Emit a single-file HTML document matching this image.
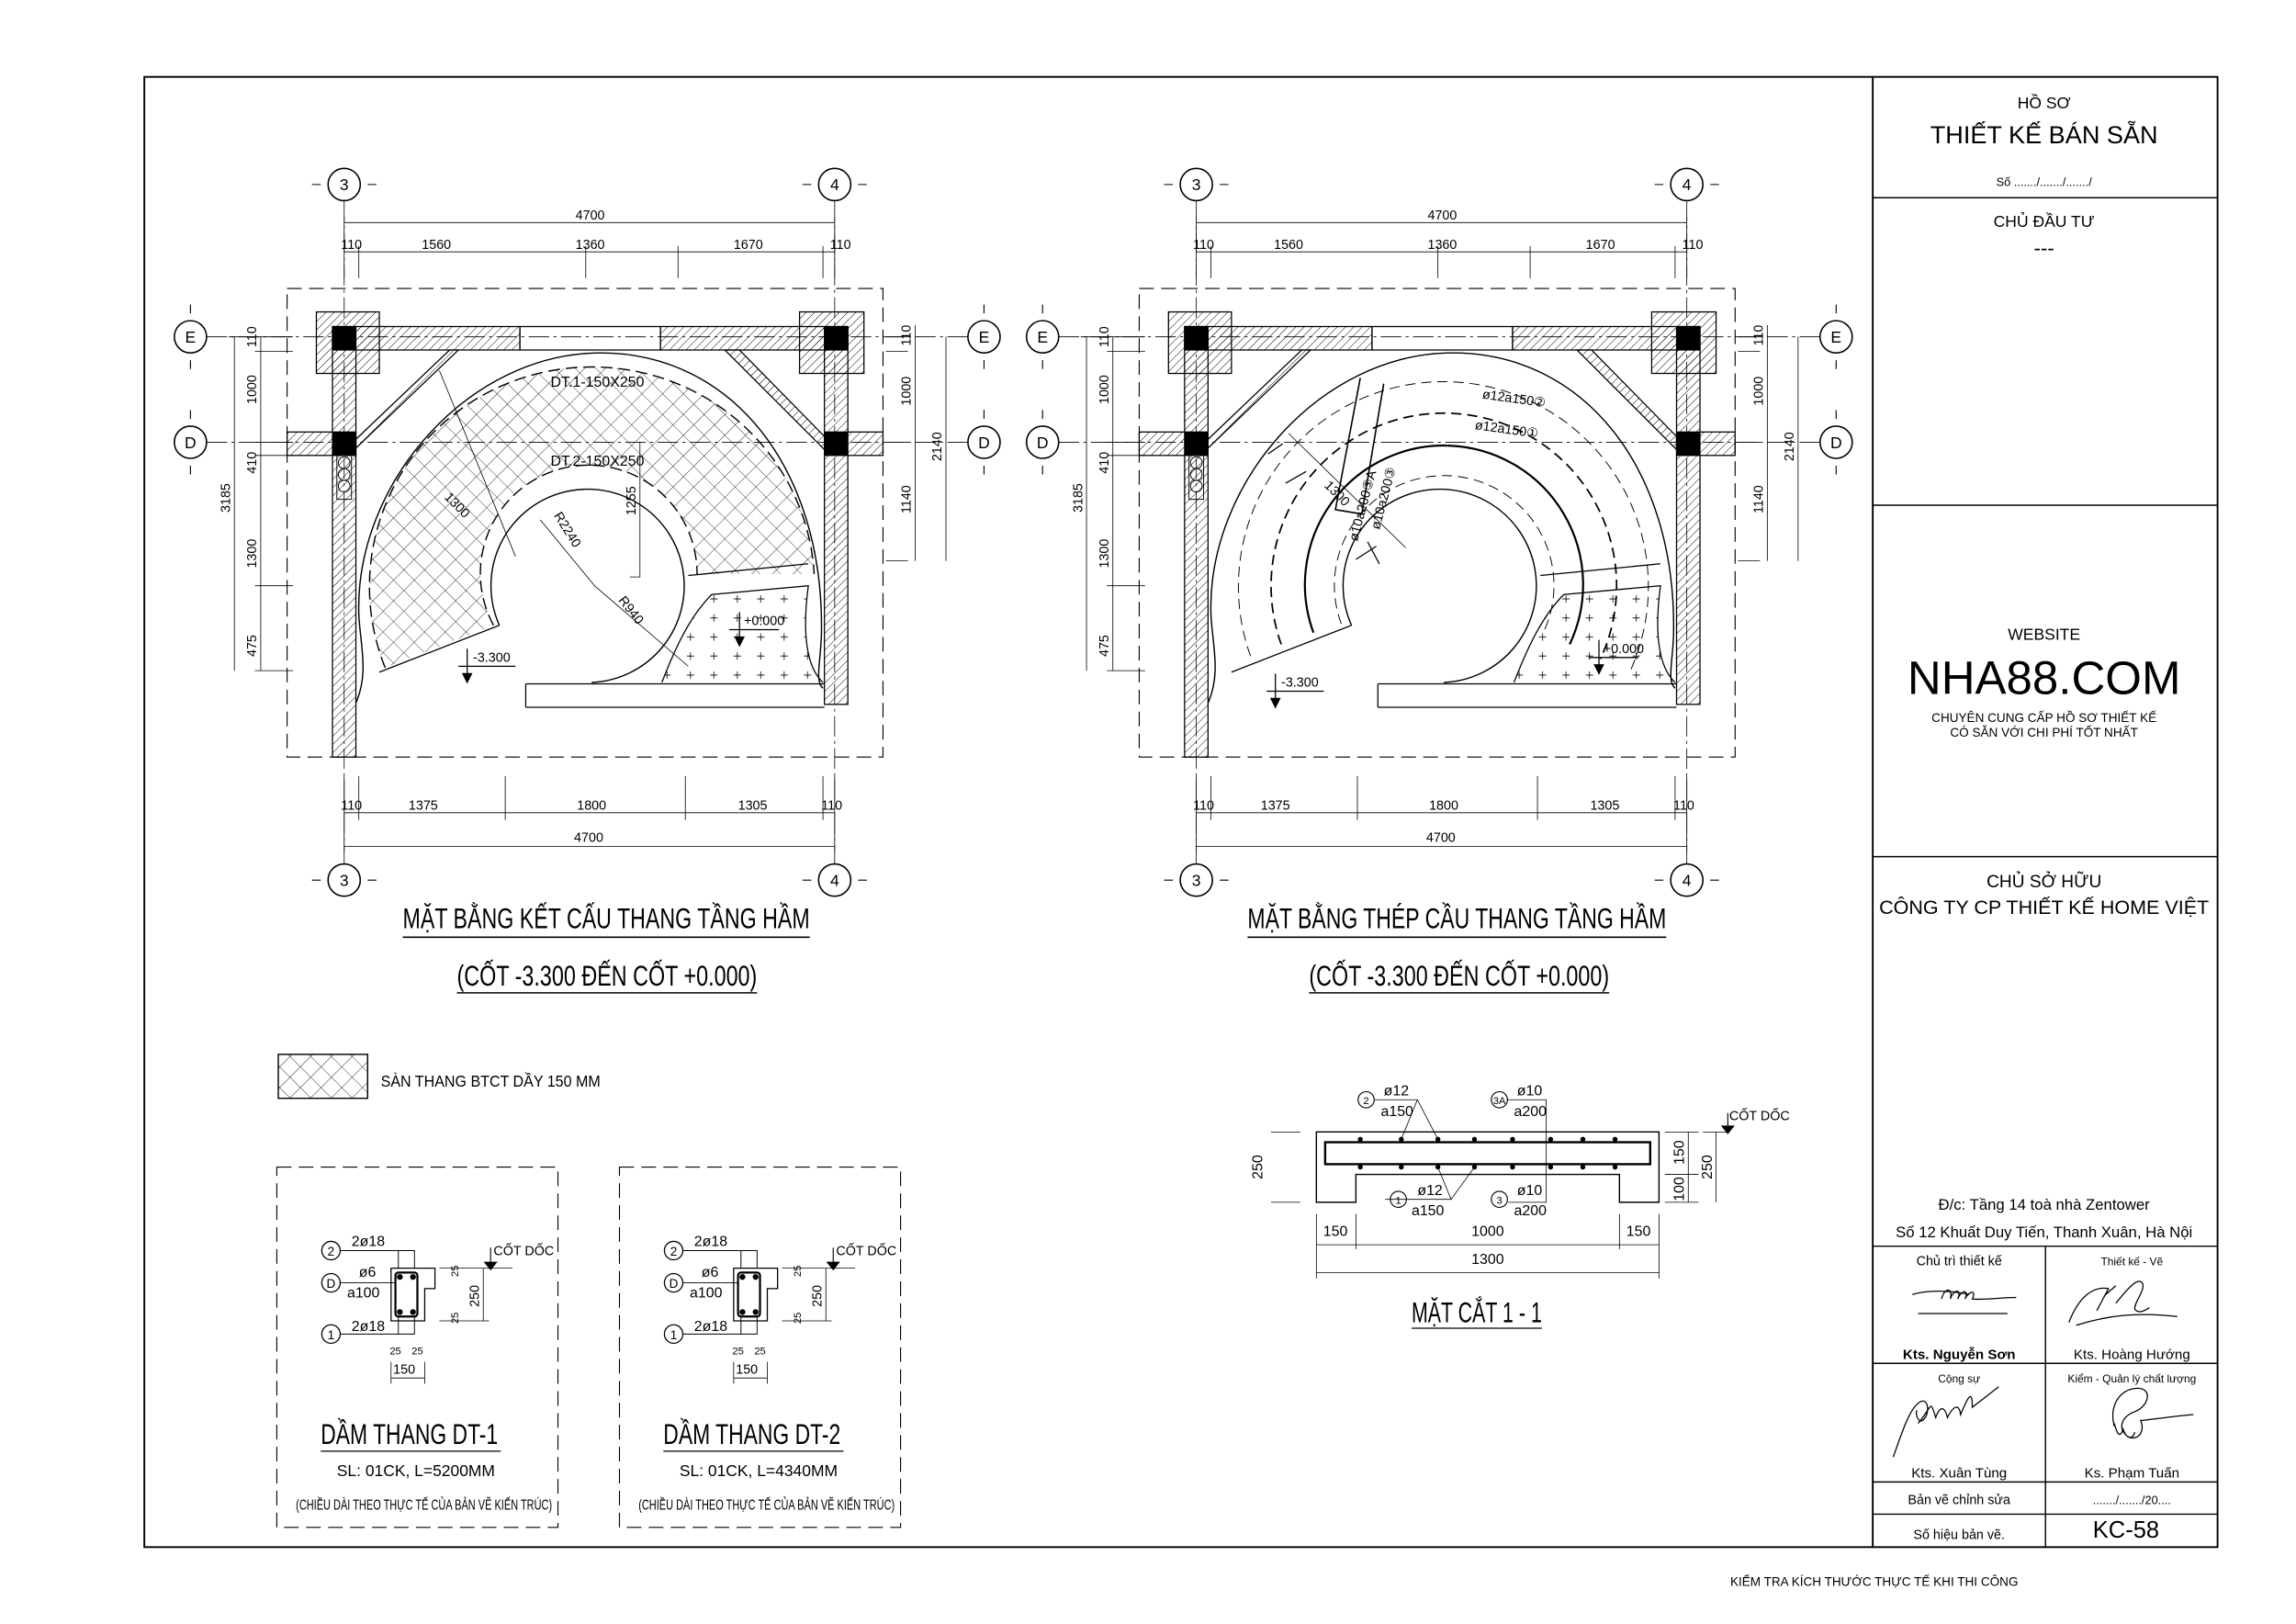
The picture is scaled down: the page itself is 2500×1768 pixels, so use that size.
<!DOCTYPE html>
<html><head><meta charset="utf-8"><style>
html,body{margin:0;padding:0;background:#fff}
svg{display:block}
text{font-family:"Liberation Sans",sans-serif;fill:#000}
.n{font-family:"Liberation Sans Narrow","Liberation Sans",sans-serif}
</style></head><body>
<svg width="2500" height="1768" viewBox="0 0 1568 1109" xmlns="http://www.w3.org/2000/svg">
<defs>
<pattern id="wh" width="4" height="4" patternUnits="userSpaceOnUse" patternTransform="rotate(45)"><line x1="0" y1="0" x2="0" y2="4" stroke="#000" stroke-width="0.6"/></pattern>
<pattern id="xh" width="10" height="10" patternUnits="userSpaceOnUse" patternTransform="rotate(45)"><path d="M0 0H10M0 0V10" stroke="#000" stroke-width="0.5" fill="none"/></pattern>
<pattern id="pl" width="16" height="13" patternUnits="userSpaceOnUse"><path d="M5 6h5M7.5 3.5v5" stroke="#000" stroke-width="0.5"/></pattern>
<g id="base" fill="none" stroke="#000" stroke-width="0.8">
  <!-- grid lines -->
  <g stroke-width="0.5" stroke-dasharray="14 3 2 3">
    <line x1="235" y1="137" x2="235" y2="590"/><line x1="570" y1="137" x2="570" y2="590"/>
    <line x1="141" y1="230" x2="661" y2="230"/><line x1="141" y1="302" x2="661" y2="302"/>
  </g>
  <g stroke-width="1">
    <circle cx="235" cy="126" r="11"/><circle cx="570" cy="126" r="11"/>
    <circle cx="235" cy="601" r="11"/><circle cx="570" cy="601" r="11"/>
    <circle cx="130" cy="230" r="11"/><circle cx="130" cy="302" r="11"/>
    <circle cx="672" cy="230" r="11"/><circle cx="672" cy="302" r="11"/>
  </g>
  <g stroke-width="0.7"><path d="M219 126h-6M251 126h6M554 126h-6M586 126h6M219 601h-6M251 601h6M554 601h-6M586 601h6M130 214v-6M130 246v6M130 286v-6M130 318v6M672 214v-6M672 246v6M672 286v-6M672 318v6"/></g>
  <!-- dashed rect -->
  <rect x="196" y="197" width="407" height="320" stroke-width="0.7" stroke-dasharray="10 5"/>
  <!-- dimensions -->
  <g stroke-width="0.5">
    <path d="M235 152H570M235 172H570M235 148V190M570 148V190M245 168V190M400 168V190M463 168V190M562 168V190"/>
    <path d="M235 555H570M235 578H570M235 530V582M570 530V582M245 530V560M345 530V560M468 530V560M562 530V560"/>
    <path d="M160 230V458M178 230V458M156 230H200M174 240H200M174 302H200M174 311H200M174 400H200M174 458H200"/>
    <path d="M625 222V383M646 230V383M620 230H605M620 240H605M620 302H605M620 383H605"/>
  </g>
  <!-- walls -->
  <g fill="url(#wh)" stroke-width="0.8">
    <rect x="216" y="213" width="43" height="42"/><rect x="546" y="213" width="44" height="42"/>
    <rect x="227" y="223" width="128" height="16"/><rect x="451" y="223" width="128" height="16"/>
    <rect x="227" y="223" width="16" height="294"/><rect x="563" y="223" width="16" height="258"/>
    <rect x="196" y="295" width="47" height="16"/><rect x="563" y="295" width="40" height="16"/>
    <path d="M243 300L307 239L313 239L243 306Z"/>
    <path d="M495 239L505 239L563 298L563 307Z"/>
  </g>
  <rect x="355" y="223" width="96" height="16" stroke-width="0.8"/>
  <g fill="#000" stroke="none"><rect x="227" y="223" width="16" height="16"/><rect x="227" y="295" width="16" height="16"/><rect x="563" y="223" width="16" height="16"/><rect x="563" y="295" width="16" height="16"/></g>
  <g stroke-width="0.6"><circle cx="235" cy="316" r="4"/><circle cx="235" cy="324" r="4"/><circle cx="235" cy="332" r="4"/><rect x="230" y="311" width="10" height="30"/></g>
  <!-- outer arch -->
  <path d="M243 480C252 460 246 440 245 420C242 330 320 241 410 241C500 241 562 320 561 430C561 450 556 465 562 470" stroke-width="0.9"/>
  <!-- inner circle + landing -->
  <path d="M341 427A66 66 0 1 1 404 466" stroke-width="0.9"/>
  <path d="M359 467H563M359 483H563M359 467V483" stroke-width="0.8"/>
  <path d="M452 466C462 440 472 420 486 406L552 400C548 430 550 455 562 466" stroke-width="0.8"/>
  <path d="M470 393L552 385" stroke-width="0.8"/>
  <path d="M259 459L341 427" stroke-width="0.8"/>
</g>
<g id="beam" fill="none" stroke="#000" stroke-width="0.8">
  <circle cx="226" cy="854" r="6.3"/><circle cx="226" cy="876" r="6.3"/><circle cx="226" cy="911" r="6.3"/>
  <path d="M232 854H283V866M232 876H270M232 911H283V899M272 854V866M272 911V899" stroke-width="0.6"/>
  <path d="M267 866H297V880H290V902H267Z"/>
  <rect x="270" y="869" width="15" height="30" stroke-width="1.4" rx="2"/>
  <g fill="#000" stroke="none"><circle cx="273" cy="872" r="2"/><circle cx="282" cy="872" r="2"/><circle cx="273" cy="896" r="2"/><circle cx="282" cy="896" r="2"/></g>
  <path d="M330 866V902M300 866H350M300 902H334M267 941H290M267 930V945M290 930V945" stroke-width="0.5"/>
  <path d="M335 852V866M331 862L335 867L339 862Z" fill="#000" stroke-width="0.7"/>
  <text x="226" y="857.5" font-size="8.5" text-anchor="middle" stroke="none">2</text>
  <text x="226" y="879.5" font-size="8.5" text-anchor="middle" stroke="none">D</text>
  <text x="226" y="914.5" font-size="8.5" text-anchor="middle" stroke="none">1</text>
  <text class="n" x="240" y="851" font-size="10" stroke="none">2ø18</text>
  <text class="n" x="245" y="872" font-size="10" stroke="none">ø6</text>
  <text class="n" x="237" y="886" font-size="10" stroke="none">a100</text>
  <text class="n" x="240" y="909" font-size="10" stroke="none">2ø18</text>
  <text class="n" x="337" y="857" font-size="9" stroke="none">CỐT DỐC</text>
  <text class="n" x="276" y="938" font-size="9" text-anchor="middle" stroke="none">150</text>
  <text class="n" x="270" y="925" font-size="7" text-anchor="middle" stroke="none">25</text>
  <text class="n" x="285" y="925" font-size="7" text-anchor="middle" stroke="none">25</text>
  <text class="n" transform="translate(327 885) rotate(-90)" font-size="9" text-anchor="middle" stroke="none">250</text>
  <text class="n" transform="translate(313 868) rotate(-90)" font-size="7" text-anchor="middle" stroke="none">25</text>
  <text class="n" transform="translate(313 900) rotate(-90)" font-size="7" text-anchor="middle" stroke="none">25</text>
</g>
</defs>

<!-- outer border -->
<rect x="98.5" y="52.5" width="1416" height="1004" fill="none" stroke="#000" stroke-width="1.2"/>

<!-- LEFT PLAN -->
<use href="#base"/>
<path d="M263 456A152 150 0 1 1 556 392L476 392A74 74 0 1 0 337 427Z" fill="url(#xh)" stroke="none"/>
<path d="M263 456A152 150 0 1 1 556 392" fill="none" stroke="#000" stroke-width="0.9" stroke-dasharray="8 4"/>
<path d="M337 427A74 74 0 1 1 476 392" fill="none" stroke="#000" stroke-width="0.9" stroke-dasharray="8 4"/>
<path d="M452 466C462 440 472 420 486 406L552 400C548 430 550 455 562 466Z" fill="url(#pl)" stroke="none"/>
<g stroke="#000" stroke-width="0.5" fill="none"><path d="M437 302V394H430M300 253L352 380M369 355L406 400L470 455"/></g>
<g font-size="10" class="n">
<text x="376" y="264">DT.1-150X250</text>
<text x="376" y="318">DT.2-150X250</text>
<text transform="translate(303 340) rotate(45)" font-size="9">1300</text>
<text transform="translate(378 352) rotate(58)" font-size="9">R2240</text>
<text transform="translate(422 410) rotate(52)" font-size="9">R940</text>
<text transform="translate(434 352) rotate(-90)" font-size="9">1255</text>
<text x="323" y="452" font-size="9">-3.300</text>
<text x="508" y="427" font-size="9">+0.000</text>
</g>
<g stroke="#000" stroke-width="0.8" fill="#000"><path d="M313 455H352M319 443V462M316 460L319 466L322 460Z"/><path d="M498 430H532M505 418V437M502 435L505 441L508 435Z"/></g>
<g class="n" font-size="9" text-anchor="middle">
<text x="403" y="150">4700</text>
<text x="240" y="170">110</text><text x="298" y="170">1560</text><text x="403" y="170">1360</text><text x="511" y="170">1670</text><text x="574" y="170">110</text>
<text x="240" y="553">110</text><text x="289" y="553">1375</text><text x="404" y="553">1800</text><text x="514" y="553">1305</text><text x="568" y="553">110</text>
<text x="402" y="575">4700</text>
<text transform="translate(157 340) rotate(-90)">3185</text>
<text transform="translate(175 230) rotate(-90)">110</text><text transform="translate(175 266) rotate(-90)">1000</text><text transform="translate(175 316) rotate(-90)">410</text><text transform="translate(175 378) rotate(-90)">1300</text><text transform="translate(175 441) rotate(-90)">475</text>
<text transform="translate(622 229) rotate(-90)">110</text><text transform="translate(622 267) rotate(-90)">1000</text><text transform="translate(622 341) rotate(-90)">1140</text>
<text transform="translate(643 305) rotate(-90)">2140</text>
</g>
<g font-size="11" text-anchor="middle">
<text x="235" y="130">3</text><text x="570" y="130">4</text><text x="235" y="605">3</text><text x="570" y="605">4</text>
<text x="130" y="234">E</text><text x="130" y="306">D</text><text x="672" y="234">E</text><text x="672" y="306">D</text>
</g>
<text class="n" x="275" y="634" font-size="20" textLength="278" lengthAdjust="spacingAndGlyphs">MẶT BẰNG KẾT CẤU THANG TẦNG HẦM</text>
<line x1="275" y1="640" x2="553" y2="640" stroke="#000" stroke-width="1"/>
<text class="n" x="312" y="673" font-size="20" textLength="205" lengthAdjust="spacingAndGlyphs">(CỐT -3.300 ĐẾN CỐT +0.000)</text>
<line x1="312" y1="678" x2="517" y2="678" stroke="#000" stroke-width="1"/>

<!-- RIGHT PLAN -->
<g transform="translate(582 0)">
<use href="#base"/>
<path d="M452 466C462 440 472 420 486 406L552 400C548 430 550 455 562 466Z" fill="url(#pl)" stroke="none"/>
<g fill="none" stroke="#000">
<path d="M272 448A140 140 0 1 1 531 459" stroke-width="0.6" stroke-dasharray="7 4"/>
<path d="M293 440A118 118 0 1 1 511 450" stroke-width="1.1" stroke-dasharray="7 4"/>
<path d="M315 432A95 95 0 1 1 490 440" stroke-width="1.4"/>
<path d="M334 426A75 75 0 1 1 472 432" stroke-width="0.6" stroke-dasharray="7 4"/>
<path d="M347 258L330 348L348 351L363 262" stroke-width="1"/>
<path d="M284 310L294 303M296 330L310 322M344 382L358 373M352 370L360 385" stroke-width="0.8"/>
<path d="M298 296L378 374" stroke-width="0.5"/>
</g>
<g class="n" font-size="9">
<text x="430" y="272" transform="rotate(8 430 272)">ø12a150②</text>
<text x="425" y="293" transform="rotate(8 425 293)">ø12a150①</text>
<text transform="translate(345 370) rotate(-75)">ø10a200③A</text>
<text transform="translate(360 362) rotate(-75)">ø10a200③</text>
<text transform="translate(322 332) rotate(45)">1300</text>
<text x="293" y="469">-3.300</text>
<text x="513" y="446">+0.000</text>
</g>
<g stroke="#000" stroke-width="0.8" fill="#000"><path d="M283 472H322M289 460V479M286 477L289 483L292 477Z"/><path d="M503 449H537M510 437V456M507 454L510 460L513 454Z"/></g>
<g class="n" font-size="9" text-anchor="middle">
<text x="403" y="150">4700</text>
<text x="240" y="170">110</text><text x="298" y="170">1560</text><text x="403" y="170">1360</text><text x="511" y="170">1670</text><text x="574" y="170">110</text>
<text x="240" y="553">110</text><text x="289" y="553">1375</text><text x="404" y="553">1800</text><text x="514" y="553">1305</text><text x="568" y="553">110</text>
<text x="402" y="575">4700</text>
<text transform="translate(157 340) rotate(-90)">3185</text>
<text transform="translate(175 230) rotate(-90)">110</text><text transform="translate(175 266) rotate(-90)">1000</text><text transform="translate(175 316) rotate(-90)">410</text><text transform="translate(175 378) rotate(-90)">1300</text><text transform="translate(175 441) rotate(-90)">475</text>
<text transform="translate(622 229) rotate(-90)">110</text><text transform="translate(622 267) rotate(-90)">1000</text><text transform="translate(622 341) rotate(-90)">1140</text>
<text transform="translate(643 305) rotate(-90)">2140</text>
</g>
<g font-size="11" text-anchor="middle">
<text x="235" y="130">3</text><text x="570" y="130">4</text><text x="235" y="605">3</text><text x="570" y="605">4</text>
<text x="130" y="234">E</text><text x="130" y="306">D</text><text x="672" y="234">E</text><text x="672" y="306">D</text>
</g>
<text class="n" x="270" y="634" font-size="20" textLength="286" lengthAdjust="spacingAndGlyphs">MẶT BẰNG THÉP CẦU THANG TẦNG HẦM</text>
<line x1="270" y1="640" x2="556" y2="640" stroke="#000" stroke-width="1"/>
<text class="n" x="312" y="673" font-size="20" textLength="205" lengthAdjust="spacingAndGlyphs">(CỐT -3.300 ĐẾN CỐT +0.000)</text>
<line x1="312" y1="678" x2="517" y2="678" stroke="#000" stroke-width="1"/>
</g>

<!-- legend -->
<rect x="190" y="720" width="61" height="30" fill="url(#xh)" stroke="#000" stroke-width="0.9"/>
<text class="n" x="260" y="742" font-size="11" textLength="150" lengthAdjust="spacingAndGlyphs">SÀN THANG BTCT DẦY 150 MM</text>

<!-- beams -->
<rect x="189" y="797" width="192" height="246" fill="none" stroke="#000" stroke-width="0.7" stroke-dasharray="10 5"/>
<rect x="423" y="797" width="192" height="246" fill="none" stroke="#000" stroke-width="0.7" stroke-dasharray="10 5"/>
<use href="#beam"/>
<use href="#beam" transform="translate(234 0)"/>
<text class="n" x="219" y="986" font-size="20" textLength="121" lengthAdjust="spacingAndGlyphs">DẦM THANG DT-1</text>
<line x1="219" y1="991" x2="342" y2="991" stroke="#000" stroke-width="0.8"/>
<text class="n" x="230" y="1008" font-size="11" textLength="108" lengthAdjust="spacingAndGlyphs">SL: 01CK, L=5200MM</text>
<text class="n" x="202" y="1031" font-size="10" textLength="175" lengthAdjust="spacingAndGlyphs">(CHIỀU DÀI  THEO THỰC TẾ CỦA BẢN VẼ KIẾN TRÚC)</text>
<text class="n" x="453" y="986" font-size="20" textLength="121" lengthAdjust="spacingAndGlyphs">DẦM THANG DT-2</text>
<line x1="453" y1="991" x2="576" y2="991" stroke="#000" stroke-width="0.8"/>
<text class="n" x="464" y="1008" font-size="11" textLength="108" lengthAdjust="spacingAndGlyphs">SL: 01CK, L=4340MM</text>
<text class="n" x="436" y="1031" font-size="10" textLength="175" lengthAdjust="spacingAndGlyphs">(CHIỀU DÀI  THEO THỰC TẾ CỦA BẢN VẼ KIẾN TRÚC)</text>

<!-- section 1-1 -->
<g fill="none" stroke="#000" stroke-width="0.9">
<path d="M899 773H1133V821H1106V802H926V821H899Z"/>
<rect x="905" y="780" width="222" height="15" stroke-width="1.5"/>
<g stroke-width="0.5">
<path d="M868 773H888M868 821H888M1137 773H1160M1137 821H1160M1137 802H1160M1153 773V821M1172 773V821M1163 773H1180"/>
<path d="M899 850H1133M899 869H1133M899 829V873M926 829V853M1106 829V853M1133 829V873"/>
<path d="M939 751H968L982 778M968 751L957 778M946 819H991L982 797M991 819L1007 797M1029 751H1056V821H1030"/>
</g>
<path d="M1180 760V773M1176 769L1180 774L1184 769Z" fill="#000" stroke-width="0.7"/>
<circle cx="933" cy="751" r="5.5" stroke-width="0.7"/><circle cx="1024" cy="751" r="5.5" stroke-width="0.7"/>
<circle cx="955" cy="819" r="5.5" stroke-width="0.7"/><circle cx="1024" cy="819" r="5.5" stroke-width="0.7"/>
</g>
<g fill="#000"><circle cx="929" cy="778" r="1.7"/><circle cx="957" cy="778" r="1.7"/><circle cx="982" cy="778" r="1.7"/><circle cx="1007" cy="778" r="1.7"/><circle cx="1033" cy="778" r="1.7"/><circle cx="1059" cy="778" r="1.7"/><circle cx="1081" cy="778" r="1.7"/><circle cx="1103" cy="778" r="1.7"/>
<circle cx="929" cy="797" r="1.7"/><circle cx="957" cy="797" r="1.7"/><circle cx="982" cy="797" r="1.7"/><circle cx="1007" cy="797" r="1.7"/><circle cx="1033" cy="797" r="1.7"/><circle cx="1059" cy="797" r="1.7"/><circle cx="1081" cy="797" r="1.7"/><circle cx="1103" cy="797" r="1.7"/></g>
<g class="n" font-size="10">
<text x="945" y="748">ø12</text><text x="943" y="762">a150</text>
<text x="1036" y="748">ø10</text><text x="1034" y="762">a200</text>
<text x="968" y="816">ø12</text><text x="964" y="830">a150</text>
<text x="1036" y="816">ø10</text><text x="1034" y="830">a200</text>
<text x="1181" y="765" font-size="9">CỐT DỐC</text>
<text x="912" y="844" text-anchor="middle">150</text><text x="1016" y="844" text-anchor="middle">1000</text><text x="1119" y="844" text-anchor="middle">150</text>
<text x="1016" y="863" text-anchor="middle">1300</text>
<text transform="translate(862 797) rotate(-90)" text-anchor="middle">250</text>
<text transform="translate(1150 787) rotate(-90)" text-anchor="middle">150</text>
<text transform="translate(1150 812) rotate(-90)" text-anchor="middle">100</text>
<text transform="translate(1169 797) rotate(-90)" text-anchor="middle">250</text>
</g>
<g font-size="7" text-anchor="middle"><text x="933" y="754">2</text><text x="1024" y="754">3A</text><text x="955" y="822">1</text><text x="1024" y="822">3</text></g>
<text class="n" x="964" y="903" font-size="20" textLength="89" lengthAdjust="spacingAndGlyphs">MẶT CẮT 1 - 1</text>
<line x1="964" y1="907" x2="1053" y2="907" stroke="#000" stroke-width="0.8"/>

<!-- title block -->
<g stroke="#000" fill="none">
<line x1="1279" y1="52" x2="1279" y2="1057" stroke-width="1.2"/>
<g stroke-width="0.9">
<line x1="1279" y1="135" x2="1515" y2="135"/><line x1="1279" y1="345" x2="1515" y2="345"/><line x1="1279" y1="585" x2="1515" y2="585"/>
<line x1="1279" y1="851" x2="1515" y2="851"/><line x1="1279" y1="931" x2="1515" y2="931"/><line x1="1279" y1="1012" x2="1515" y2="1012"/><line x1="1279" y1="1034" x2="1515" y2="1034"/>
<line x1="1397" y1="851" x2="1397" y2="1057"/>
</g>
<g stroke-width="0.8">
<path d="M1306 884C1320 880 1335 882 1345 884M1326 887c2-8 8-8 6 0c3-8 8-6 5 0c3-7 8-6 5 0c3-6 8-6 5 0c5 1 20-1 30-1M1310 897H1371"/>
<path d="M1413 903C1420 885 1430 878 1440 880L1432 895M1437 885L1445 878M1445 890c8-10 15-18 18-14c3 4-6 14-5 18c3 4 8 0 10-1M1418 905C1440 898 1460 896 1487 899"/>
<path d="M1293 995C1300 975 1305 960 1312 957c5-2 6 8 2 12c-3 4-6-2-5-6M1310 972C1320 960 1318 955 1322 968c3-8 6-8 8 0c4-8 8-10 9-2c5-12 8-18 8-5L1365 947"/>
<path d="M1444 974C1440 960 1448 948 1460 948c10 0 8 12-2 16c-8 3-12 10-6 16c5 5 14 0 10-10c4 0 22-3 36-4M1444 972c2 8 4 10 6 4c2 6 6 8 8 2"/>
</g>
</g>
<g text-anchor="middle">
<text x="1396" y="74" font-size="11">HỒ SƠ</text>
<text x="1396" y="98" font-size="17">THIẾT KẾ BÁN SẴN</text>
<text x="1396" y="127" font-size="8">Số ......./......./......./</text>
<text x="1396" y="155" font-size="11">CHỦ ĐẦU TƯ</text>
<text x="1396" y="174" font-size="14">---</text>
<text x="1396" y="437" font-size="11">WEBSITE</text>
<text x="1396" y="474" font-size="32">NHA88.COM</text>
<text x="1396" y="493" font-size="8.5">CHUYÊN CUNG CẤP HỒ SƠ THIẾT KẾ</text>
<text x="1396" y="503" font-size="8.5">CÓ SẴN VỚI CHI PHÍ TỐT NHẤT</text>
<text x="1396" y="606" font-size="12">CHỦ SỞ HỮU</text>
<text x="1396" y="624" font-size="13.5">CÔNG TY CP THIẾT KẾ HOME VIỆT</text>
<text x="1396" y="826" font-size="10.5">Đ/c: Tầng 14 toà nhà Zentower</text>
<text x="1396" y="845" font-size="10.5">Số 12 Khuất Duy Tiến, Thanh Xuân, Hà Nội</text>
<text x="1338" y="864" font-size="9">Chủ trì thiết kế</text>
<text x="1456" y="864" font-size="7.5">Thiết kế - Vẽ</text>
<text x="1338" y="928" font-size="9.5" font-weight="bold">Kts. Nguyễn Sơn</text>
<text x="1456" y="928" font-size="9.5">Kts. Hoàng Hướng</text>
<text x="1338" y="944" font-size="7.5">Cộng sự</text>
<text x="1456" y="944" font-size="7.5">Kiểm - Quản lý chất lượng</text>
<text x="1338" y="1009" font-size="9.5">Kts. Xuân Tùng</text>
<text x="1456" y="1009" font-size="9.5">Ks. Phạm Tuấn</text>
<text x="1338" y="1027" font-size="9">Bản vẽ chỉnh sửa</text>
<text x="1456" y="1027" font-size="8">......./......./20....</text>
<text x="1338" y="1051" font-size="9">Số hiệu bản vẽ.</text>
<text x="1452" y="1050" font-size="16">KC-58</text>
</g>
<text x="1280" y="1083" font-size="8.5" text-anchor="middle">KIỂM TRA KÍCH THƯỚC THỰC TẾ KHI THI CÔNG</text>
</svg>
</body></html>
